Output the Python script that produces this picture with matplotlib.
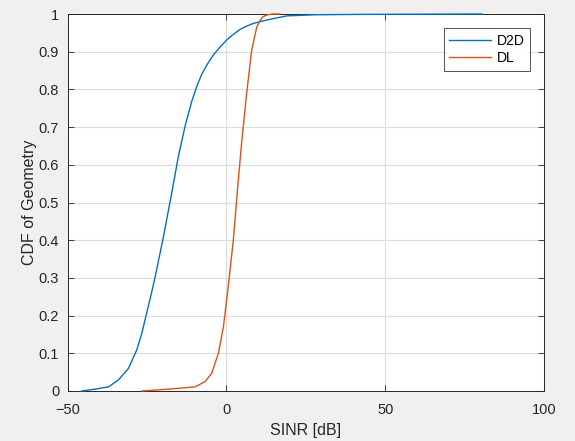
import matplotlib
matplotlib.use('Agg')
from matplotlib import pyplot as plt
import numpy as np

plt.rcParams['font.family'] = ['Liberation Sans', 'DejaVu Sans']

# empirical CDF curves, SINR in dB
d2d_x = [-45.5, -41.3, -37.1, -34.0, -30.8, -28.2, -26.6, -25.1, -23.5, -22.4,
         -19.8, -17.2, -15.1, -13.0, -10.9, -9.3, -7.7, -5.9, -4.1, -2.0,
         0.1, 2.2, 4.3, 6.4, 8.5, 12.7, 19.0, 28.0, 42.0, 80.5]
d2d_y = [0.0, 0.005, 0.011, 0.029, 0.060, 0.109, 0.153, 0.206, 0.262, 0.303,
         0.409, 0.525, 0.622, 0.702, 0.768, 0.808, 0.841, 0.868, 0.891, 0.912,
         0.931, 0.946, 0.959, 0.968, 0.975, 0.984, 0.995, 0.998, 0.999, 1.0]

dl_x = [-26.6, -18.2, -9.8, -6.7, -4.6, -2.5, -0.9, 0.6, 2.2, 3.5,
        4.8, 6.4, 8.0, 9.6, 10.6, 11.6, 13.0, 14.8, 16.9]
dl_y = [0.0, 0.005, 0.011, 0.025, 0.047, 0.100, 0.171, 0.277, 0.400, 0.533,
        0.657, 0.790, 0.905, 0.966, 0.982, 0.993, 0.998, 1.0, 1.0]

xticks = [-50, 0, 50, 100]
yticks = np.round(np.arange(0, 1.01, 0.1), 1)

fig = plt.figure(figsize=(5.75, 4.41), dpi=100, facecolor='#f0f0f0')
ax = fig.add_axes([67.5/575, 1 - 391/441, (544 - 67.5)/575, (391 - 14)/441])
ax.set_facecolor('white')

ax.plot(d2d_x, d2d_y, color='#0072BD', lw=1.0, label='D2D', clip_on=False, zorder=3)
ax.plot(dl_x, dl_y, color='#D95319', lw=1.0, label='DL', clip_on=False, zorder=3)

ax.set_xlim(-50, 100)
ax.set_ylim(0, 1)
ax.set_xticks(xticks)
ax.set_yticks(yticks)
ax.set_yticklabels(['0'] + ['%.1f' % v for v in yticks[1:-1]] + ['1'])
ax.grid(True, color='#dcdcdc', lw=0.8)
ax.set_axisbelow(True)
ax.tick_params(direction='in', top=True, right=True, length=4,
               labelsize=10.5, colors='#262626', width=0.6)
ax.tick_params(axis='x', pad=9)
ax.tick_params(axis='y', pad=6)
for s in ax.spines.values():
    s.set_color('#262626')
    s.set_linewidth(0.7)

ax.set_xlabel('SINR [dB]', fontsize=11.5, color='#262626', labelpad=4)
ax.set_ylabel('CDF of Geometry', fontsize=11.5, color='#262626', labelpad=1)

leg = ax.legend(loc='upper right', fontsize=10, fancybox=False,
                edgecolor='#262626', handlelength=3.0, handletextpad=0.4,
                borderpad=0.4, labelspacing=0.25, borderaxespad=0)
leg.set_bbox_to_anchor((530/575, 1 - 28/441), transform=fig.transFigure)
leg.get_frame().set_linewidth(0.7)

fig.savefig('out.png', dpi=100, facecolor=fig.get_facecolor())
